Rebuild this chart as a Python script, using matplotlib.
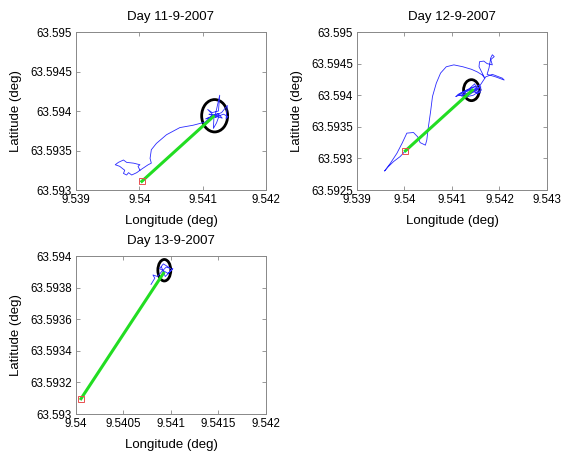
import matplotlib
matplotlib.use("Agg")
import matplotlib.pyplot as plt
from matplotlib.patches import Ellipse
from matplotlib.ticker import FixedLocator, FuncFormatter

plt.rcParams['font.family'] = ['Liberation Sans', 'DejaVu Sans']

# Day 11-9-2007 track (lon, lat)
lon_11 = [9.54001, 9.53998, 9.54001, 9.53991, 9.53980, 9.53975, 9.53967, 9.53962,
          9.53969, 9.53977, 9.53975, 9.53980, 9.53983, 9.53988, 9.53996, 9.54001,
          9.54014, 9.54019, 9.54017, 9.54019, 9.54027, 9.54043, 9.54064, 9.54085,
          9.54104, 9.54112, 9.54120, 9.54127, 9.54125, 9.54115, 9.54108, 9.54120,
          9.54133, 9.54140, 9.54137, 9.54139, 9.54130, 9.54118, 9.54117, 9.54122,
          9.54126, 9.54110, 9.54119, 9.54105, 9.54124, 9.54131, 9.54113, 9.54121]
lat_11 = [63.59325, 63.59330, 63.59332, 63.59334, 63.59335, 63.59338, 63.59335, 63.59332,
          63.59330, 63.59325, 63.59321, 63.59319, 63.59322, 63.59319, 63.59322, 63.59325,
          63.59332, 63.59334, 63.59340, 63.59351, 63.59359, 63.59370, 63.59379, 63.59382,
          63.59386, 63.59392, 63.59395, 63.59420, 63.59400, 63.59398, 63.59402, 63.59392,
          63.59396, 63.59393, 63.59390, 63.59407, 63.59398, 63.59394, 63.59378, 63.59385,
          63.59394, 63.59396, 63.59394, 63.59390, 63.59397, 63.59391, 63.59395, 63.59392]

# Day 12-9-2007 track
lon_12 = [9.54002, 9.53991, 9.53977, 9.53966, 9.53958, 9.53970, 9.53984, 9.53995,
          9.54005, 9.54019, 9.54028, 9.54033, 9.54044, 9.54047, 9.54050, 9.54055,
          9.54059, 9.54067, 9.54076, 9.54088, 9.54104, 9.54123, 9.54141, 9.54153,
          9.54164, 9.54169, 9.54157, 9.54158, 9.54167, 9.54174, 9.54185, 9.54181,
          9.54185, 9.54189, 9.54181, 9.54178, 9.54174, 9.54192, 9.54210, 9.54206,
          9.54185, 9.54171, 9.54164, 9.54157, 9.54150,
          9.54135, 9.54115, 9.54108, 9.54125, 9.54142, 9.54158, 9.54162, 9.54145,
          9.54128, 9.54112, 9.54130, 9.54150, 9.54160, 9.54140, 9.54120, 9.54148,
          9.54155, 9.54138, 9.54118, 9.54152, 9.54133, 9.54161, 9.54141]
lat_12 = [63.59312, 63.59303, 63.59295, 63.59287, 63.59280, 63.59292, 63.59308, 63.59324,
          63.59340, 63.59341, 63.59334, 63.59325, 63.59321, 63.59329, 63.59348, 63.59374,
          63.59398, 63.59419, 63.59435, 63.59445, 63.59448, 63.59445, 63.59441, 63.59437,
          63.59432, 63.59427, 63.59445, 63.59453, 63.59454, 63.59450, 63.59448, 63.59458,
          63.59464, 63.59461, 63.59456, 63.59443, 63.59433, 63.59429, 63.59424, 63.59427,
          63.59433, 63.59429, 63.59421, 63.59413, 63.59408,
          63.59402, 63.59400, 63.59398, 63.59405, 63.59412, 63.59416, 63.59408, 63.59400,
          63.59397, 63.59401, 63.59408, 63.59414, 63.59404, 63.59406, 63.59399, 63.59418,
          63.59402, 63.59410, 63.59403, 63.59411, 63.59399, 63.59413, 63.59405]

# Day 13-9-2007 track
lon_13 = [9.54079, 9.54083, 9.54081, 9.54086, 9.54090, 9.54095, 9.54100, 9.54092,
          9.54088, 9.54097, 9.54102, 9.54094, 9.54090]
lat_13 = [63.59382, 63.59386, 63.59388, 63.59387, 63.59390, 63.59393, 63.59392, 63.59395,
          63.59392, 63.59389, 63.59392, 63.59387, 63.59393]

# start point, end point and circle radius per day
days = ['Day 11-9-2007', 'Day 12-9-2007', 'Day 13-9-2007']
start_lon = [9.54004, 9.54002, 9.540053]
start_lat = [63.59311, 63.59312, 63.593097]
end_lon = [9.54117, 9.54143, 9.540921]
end_lat = [63.59393, 63.59408, 63.593891]
circ_lon = [9.54119, 9.54141, 9.54093]
circ_lat = [63.59394, 63.59408, 63.59391]
circ_r = [0.000205, 0.000166, 0.000068]

xticks = [[9.539, 9.540, 9.541, 9.542],
          [9.539, 9.540, 9.541, 9.542, 9.543],
          [9.540, 9.5405, 9.541, 9.5415, 9.542]]
yticks = [[63.593, 63.5935, 63.594, 63.5945, 63.595],
          [63.5925, 63.593, 63.5935, 63.594, 63.5945, 63.595],
          [63.593, 63.5932, 63.5934, 63.5936, 63.5938, 63.594]]

tracks = [(lon_11, lat_11), (lon_12, lat_12), (lon_13, lat_13)]
positions = [[0.1352, 0.5957, 0.338, 0.3362],
             [0.6352, 0.5957, 0.338, 0.3362],
             [0.1352, 0.1191, 0.338, 0.3362]]

fig = plt.figure(figsize=(5.62, 4.70), dpi=100)
fmt = FuncFormatter(lambda v, p: f'{v:.6g}')

for i in range(3):
    ax = fig.add_axes(positions[i])
    lon, lat = tracks[i]
    ax.plot(lon, lat, color='#2a2aff', lw=0.6)
    ax.plot([start_lon[i], end_lon[i]], [start_lat[i], end_lat[i]],
            color='#22dd22', lw=2.2)
    ax.plot(start_lon[i], start_lat[i], 's', ms=4.5, mfc='none',
            mec='#e85050', mew=0.7)
    ax.add_patch(Ellipse((circ_lon[i], circ_lat[i]), 2 * circ_r[i], 2 * circ_r[i],
                         fill=False, ec='black', lw=2))
    ax.set_xlim(xticks[i][0], xticks[i][-1])
    ax.set_ylim(yticks[i][0], yticks[i][-1])
    ax.xaxis.set_major_locator(FixedLocator(xticks[i]))
    ax.yaxis.set_major_locator(FixedLocator(yticks[i]))
    ax.xaxis.set_major_formatter(fmt)
    ax.yaxis.set_major_formatter(fmt)
    ax.tick_params(direction='in', length=3, width=0.6, color='#888888',
                   labelsize=8.3, top=True, right=True, pad=3)
    for s in ax.spines.values():
        s.set_color('#888888')
        s.set_linewidth(0.7)
    ax.set_title(days[i], fontsize=9.5, pad=8.5)
    ax.set_xlabel('Longitude (deg)', fontsize=9.5, labelpad=6)
    ax.set_ylabel('Latitude (deg)', fontsize=9.5, labelpad=6)

fig.savefig('out.png', dpi=100)
